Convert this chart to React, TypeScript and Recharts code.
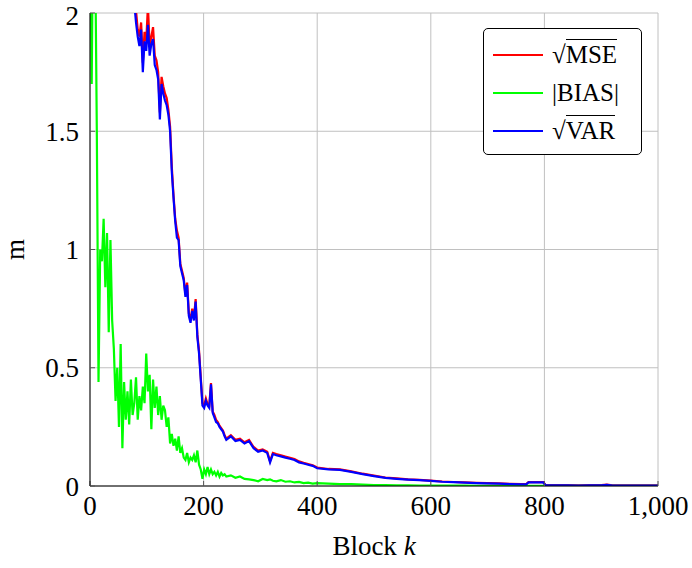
import { LineChart, Line, XAxis, YAxis, CartesianGrid } from 'recharts'

const FONT = '"Liberation Serif", "Times New Roman", serif'

const blocks = [
  0, 3, 6, 9, 12, 15, 18, 21, 24, 27, 30, 33, 36, 39, 42, 45, 48, 51, 54, 57, 60, 63, 66, 69, 72, 75, 78,
  81, 84, 87, 90, 93, 96, 99, 102, 105, 108, 111, 114, 117, 120, 123, 126, 129, 132, 135, 138,
  141, 144, 147, 150, 153, 156, 159, 162, 165, 168, 171, 174, 177, 180, 183, 186, 189, 192, 195, 198,
  201, 204, 207, 210, 213, 216, 219, 222, 225, 228, 231, 234, 237, 240,
  248, 256, 264, 272, 280, 288, 296, 304, 312, 317, 322, 328, 336, 344, 352, 360, 368, 376, 384, 392, 400,
  420, 440, 460, 480, 500, 520, 540, 560, 580, 600, 620, 640, 660, 680, 700, 720, 740, 760, 768,
  772, 785, 798, 802, 820, 840, 860, 880, 900, 910, 920, 940, 960, 980, 1000
]

const varValues = [
  5.2, 4.9, 4.7, 4.4, 4.2, 4.0, 3.8, 3.6, 3.5, 3.3, 3.2, 3.1, 2.95, 2.85, 2.75, 2.65, 2.55, 2.5, 2.42, 2.35, 2.3, 2.25, 2.2, 2.15, 2.12, 2.08, 2.04,
  1.96, 1.9, 1.86, 1.93, 1.75, 1.88, 1.84, 1.95, 1.82, 1.87, 1.89, 1.78, 1.76, 1.72, 1.55, 1.7, 1.66, 1.63, 1.61, 1.57,
  1.5, 1.33, 1.22, 1.12, 1.05, 1.04, 0.93, 0.9, 0.87, 0.8, 0.85, 0.72, 0.69, 0.74, 0.7, 0.78, 0.63, 0.56, 0.45, 0.34,
  0.33, 0.36, 0.34, 0.33, 0.43, 0.31, 0.29, 0.27, 0.265, 0.25, 0.24, 0.23, 0.21, 0.195,
  0.21, 0.19, 0.195, 0.18, 0.19, 0.16, 0.145, 0.15, 0.14, 0.1, 0.135, 0.13, 0.125, 0.12, 0.115, 0.11, 0.1, 0.095, 0.09, 0.085, 0.075,
  0.07, 0.068, 0.06, 0.05, 0.042, 0.034, 0.03, 0.027, 0.025, 0.022, 0.018, 0.016, 0.014, 0.012, 0.011, 0.01, 0.008, 0.007, 0.007,
  0.015, 0.015, 0.015, 0.003, 0.003, 0.003, 0.002, 0.003, 0.003, 0.005, 0.002, 0.002, 0.002, 0.002, 0.002
]

const mseValues = [
  5.3, 5.0, 4.8, 4.5, 4.3, 4.1, 3.9, 3.7, 3.6, 3.4, 3.3, 3.2, 3.05, 2.95, 2.85, 2.75, 2.65, 2.6, 2.5, 2.42, 2.36, 2.3, 2.26, 2.2, 2.16, 2.12, 2.08,
  2.01, 1.93, 1.9, 1.96, 1.79, 1.92, 1.88, 2.03, 1.86, 1.9, 1.94, 1.82, 1.8, 1.75, 1.58, 1.73, 1.69, 1.66, 1.64, 1.59,
  1.52, 1.35, 1.23, 1.13, 1.08, 1.05, 0.94, 0.91, 0.88, 0.81, 0.86, 0.73, 0.7, 0.75, 0.71, 0.79, 0.64, 0.57, 0.46, 0.35,
  0.34, 0.37, 0.345, 0.34, 0.435, 0.315, 0.3, 0.28, 0.27, 0.255, 0.245, 0.235, 0.215, 0.2,
  0.215, 0.195, 0.2, 0.185, 0.195, 0.165, 0.15, 0.155, 0.145, 0.105, 0.14, 0.135, 0.13, 0.124, 0.119, 0.114, 0.104, 0.098, 0.093, 0.088, 0.078,
  0.072, 0.07, 0.062, 0.052, 0.044, 0.036, 0.032, 0.028, 0.026, 0.023, 0.019, 0.017, 0.015, 0.013, 0.012, 0.011, 0.009, 0.008, 0.008,
  0.016, 0.016, 0.016, 0.004, 0.004, 0.004, 0.003, 0.004, 0.004, 0.006, 0.003, 0.003, 0.003, 0.003, 0.003
]

const biasValues = [
  2.5, 1.7, 2.6, 2.3, 1.5, 0.44, 1.0, 0.95, 1.13, 0.84, 1.07, 0.65, 1.04, 0.7, 0.58, 0.36, 0.5, 0.25, 0.6, 0.16, 0.44, 0.28, 0.4, 0.26, 0.45, 0.3, 0.35,
  0.46, 0.28, 0.38, 0.32, 0.42, 0.35, 0.56, 0.4, 0.47, 0.24, 0.45, 0.33, 0.42, 0.3, 0.38, 0.28, 0.34, 0.32, 0.25, 0.29,
  0.18, 0.22, 0.17, 0.2, 0.15, 0.21, 0.14, 0.16, 0.12, 0.11, 0.14, 0.1, 0.12, 0.11, 0.13, 0.1, 0.15, 0.09, 0.07, 0.03,
  0.07, 0.05, 0.08, 0.05, 0.07, 0.05, 0.06, 0.045, 0.06, 0.04, 0.055, 0.045, 0.05, 0.04,
  0.045, 0.035, 0.04, 0.03, 0.028, 0.025, 0.02, 0.03, 0.025, 0.028, 0.022, 0.02, 0.025, 0.018, 0.02, 0.015, 0.017, 0.012, 0.014, 0.01, 0.012,
  0.01, 0.008, 0.008, 0.006, 0.004, 0.004, 0.003, 0.003, 0.002, 0.002, 0.002, 0.002, 0.002, 0.001, 0.001, 0.001, 0.001, 0.001, 0.001,
  0.001, 0.001, 0.001, 0.001, 0.001, 0.001, 0.001, 0.001, 0.001, 0.001, 0.001, 0.001, 0.001, 0.001, 0.001
]

const xTicks = [0, 200, 400, 600, 800, 1000]
const yTicks = [0, 0.5, 1, 1.5, 2]

const data = blocks.map((k, i) => ({
  k,
  mse: mseValues[i],
  bias: biasValues[i],
  variance: varValues[i]
}))

const tickStyle = { fill: '#000', fontSize: 27, fontFamily: FONT }
const NoTick = () => <g />

const LegendBox = () => {
  const row = (color: string, label: React.ReactNode) => (
    <div style={{ display: 'flex', alignItems: 'center', height: 38 }}>
      <div style={{ width: 50, height: 2, background: color, marginRight: 9 }} />
      <div style={{ fontSize: 25, lineHeight: '26px' }}>{label}</div>
    </div>
  )
  const root = (txt: string) => (
    <span>
      √<span style={{ borderTop: '1px solid #000', paddingTop: 1 }}>{txt}</span>
    </span>
  )
  return (
    <div
      style={{
        position: 'absolute',
        left: 483,
        top: 28,
        width: 159,
        height: 127,
        border: '1px solid #000',
        borderRadius: 5,
        background: '#fff',
        fontFamily: FONT,
        padding: '7px 0 0 9px',
        boxSizing: 'border-box'
      }}
    >
      {row('#ff0000', root('MSE'))}
      {row('#00ff00', '|BIAS|')}
      {row('#0000ff', root('VAR'))}
    </div>
  )
}

export default function App() {
  return (
    <div style={{ position: 'relative', width: 692, height: 568, background: '#fff' }}>
      <style>{'body { margin: 0; }'}</style>
      <LineChart
        width={692}
        height={568}
        data={data}
        margin={{ top: 13, right: 34, bottom: 0, left: 0 }}
        style={{ fontFamily: FONT }}
      >
        <CartesianGrid stroke="#c0c0c0" strokeWidth={1} />
        <XAxis
          dataKey="k"
          type="number"
          domain={[0, 1000]}
          ticks={xTicks}
          height={82}
          tickSize={-5}
          tickMargin={15}
          tick={tickStyle}
          tickLine={{ stroke: '#555' }}
          axisLine={{ stroke: '#000' }}
          tickFormatter={(v) => Number(v).toLocaleString('en-US')}
          label={({ viewBox }: any) => (
            <text
              x={viewBox.x + viewBox.width / 2}
              y={viewBox.y + 69}
              textAnchor="middle"
              fontSize={27}
              fontFamily={FONT}
              fill="#000"
            >
              Block <tspan fontStyle="italic">k</tspan>
            </text>
          )}
        />
        <XAxis
          xAxisId="top"
          orientation="top"
          type="number"
          dataKey="k"
          domain={[0, 1000]}
          ticks={xTicks}
          height={0}
          tickSize={-5}
          tick={NoTick}
          tickLine={{ stroke: '#555' }}
          axisLine={{ stroke: '#000' }}
        />
        <YAxis
          domain={[0, 2]}
          ticks={yTicks}
          allowDataOverflow
          width={90}
          tickSize={-5}
          tickMargin={16}
          tick={tickStyle}
          tickLine={{ stroke: '#555' }}
          axisLine={{ stroke: '#000' }}
          tickFormatter={(v) => String(v)}
          label={({ viewBox }: any) => (
            <text
              x={15}
              y={viewBox.y + viewBox.height / 2}
              textAnchor="middle"
              dominantBaseline="central"
              fontSize={27}
              fontFamily={FONT}
              fill="#000"
              transform={`rotate(-90 15 ${viewBox.y + viewBox.height / 2})`}
            >
              m
            </text>
          )}
        />
        <YAxis
          yAxisId="right"
          orientation="right"
          domain={[0, 2]}
          ticks={yTicks}
          allowDataOverflow
          width={0}
          tickSize={-5}
          tick={NoTick}
          tickLine={{ stroke: '#555' }}
          axisLine={{ stroke: '#000' }}
        />
        <Line type="linear" dataKey="mse" stroke="#ff0000" strokeWidth={2.2} dot={false} isAnimationActive={false} />
        <Line type="linear" dataKey="bias" stroke="#00ff00" strokeWidth={2.2} dot={false} isAnimationActive={false} />
        <Line type="linear" dataKey="variance" stroke="#0000ff" strokeWidth={2.2} dot={false} isAnimationActive={false} />
      </LineChart>
      <LegendBox />
    </div>
  )
}
